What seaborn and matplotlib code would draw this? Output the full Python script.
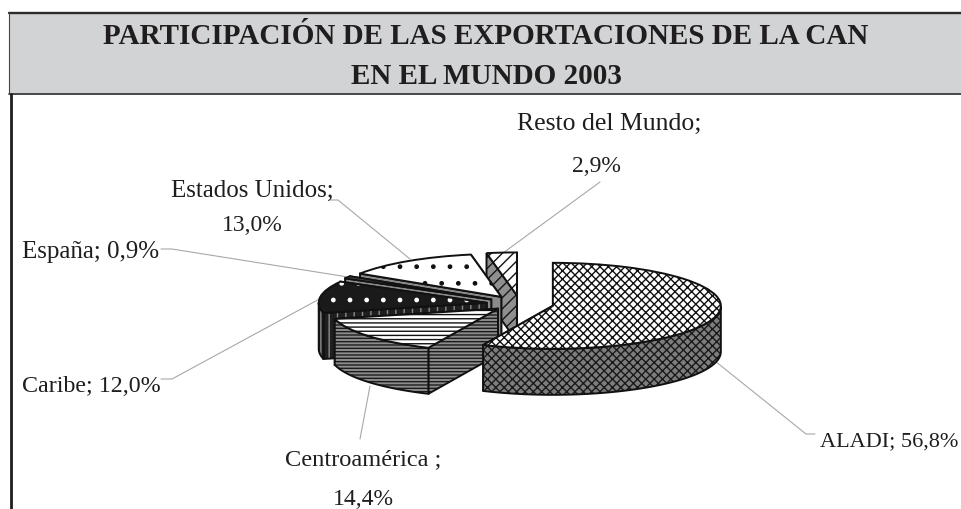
import numpy as np
import matplotlib
matplotlib.use("Agg")
import matplotlib.pyplot as plt
import seaborn as sns
from matplotlib.patches import Polygon, Rectangle, Wedge

# data, clockwise from 12 o'clock
categories = ["ALADI", "Centroamérica", "Caribe", "España", "Estados Unidos", "Resto del Mundo"]
shares = [56.8, 14.4, 12.0, 0.9, 13.0, 2.9]
explode = [0.2, 0.17, 0.2, 0.2, 0.2, 0.2]
title_lines = ["PARTICIPACIÓN DE LAS EXPORTACIONES DE LA CAN", "EN EL MUNDO 2003"]

W, H = 961, 510
# pie geometry in pixels
cx, cy, rx, ry, depth_px = 520, 305, 168, 43, 46
depth = depth_px / ry

sns.set_theme(style="white")
plt.rcParams["font.family"] = ["Liberation Serif", "DejaVu Serif"]
plt.rcParams["hatch.linewidth"] = 1.0
ink = "#1f1d1e"

fig = plt.figure(figsize=(W / 100, H / 100), dpi=100, facecolor="white")

# background layer in pixel coords: frame, title, labels, leader lines
bg = fig.add_axes([0, 0, 1, 1], zorder=0)
bg.set_xlim(0, W)
bg.set_ylim(H, 0)
bg.axis("off")

bg.add_patch(Rectangle((9, 14), W, 81, fc="#d1d3d4", ec="none"))
bg.plot([9, W], [14, 14], color="#2b2b2b", lw=1.7)
bg.plot([9, W], [95, 95], color="#2b2b2b", lw=1.2)
bg.plot([9, 9], [14, 95], color="#444444", lw=0.8)
bg.plot([10.5, 10.5], [95, H], color=ink, lw=2)
bg.text(486, 36, title_lines[0], ha="center", va="center", fontsize=21, fontweight="bold", color=ink)
bg.text(486, 77, title_lines[1], ha="center", va="center", fontsize=21, fontweight="bold", color=ink)

labels = [
    (609, 124, "Resto del Mundo;", 18.5), (596, 167, "2,9%", 17),
    (252, 191, "Estados Unidos;", 18), (252, 226, "13,0%", 17),
    (91, 252, "España; 0,9%", 18),
    (91, 387, "Caribe; 12,0%", 17.3),
    (363, 460, "Centroamérica ;", 17.6), (363, 500, "14,4%", 17),
    (889, 442, "ALADI; 56,8%", 16),
]
for x, y, s, size in labels:
    bg.text(x, y, s, ha="center", va="center", fontsize=size, color=ink)

leaders = [
    [503, 254, 600, 183],
    [410, 260, 338, 201, 330, 201],
    [161, 250, 172, 250, 348, 278],
    [161, 380, 172, 380, 325, 297],
    [370, 387, 360, 440],
    [715, 362, 806, 435, 815, 435],
]
for pts in leaders:
    bg.plot(pts[0::2], pts[1::2], color="#a8a8a8", lw=0.8)

# pie layer, 1 data unit = rx px across and ry px down, so the circle comes out flat
ax = fig.add_axes([0, 0, 1, 1], zorder=1)
wedges, _ = ax.pie(shares, explode=explode, startangle=90, counterclock=False, radius=1)
ax.set_aspect("auto")
ax.set_xlim(-cx / rx, (W - cx) / rx)
ax.set_ylim((cy - H) / ry, cy / ry)
ax.patch.set_alpha(0)
ax.axis("off")

# top colour, top hatch colour, top hatch, side colour, side hatch colour, side hatch
styles = [
    ("white", "#111111", "xxxx", "#7d7d7d", "#1a1a1a", "xxxx"),
    ("white", "#111111", "----", "#8c8c8c", "#1c1c1c", "-----"),
    ("#1a1a1a", "white", ".", "#1f1f1f", "#8a8a8a", "||"),
    ("#555555", "#111111", "", "#8a8a8a", "#333333", ""),
    ("white", "#111111", ".", "#8a8a8a", "#222222", ""),
    ("white", "#111111", "///", "#8f8f8f", "#161616", "///"),
]
# paint from the back of the pie to the front
paint_order = [5, 4, 3, 2, 1, 0]


def add_face(verts, face, hatch_col, hatch, z):
    ax.add_patch(Polygon(verts, closed=True, fc=face, ec=hatch_col, hatch=hatch, lw=0, zorder=z))
    ax.add_patch(Polygon(verts, closed=True, fill=False, ec="#111111", lw=1.4, zorder=z + 0.01))


for rank, i in enumerate(paint_order):
    w = wedges[i]
    top, top_hc, top_h, side, side_hc, side_h = styles[i]
    z = 10 + rank
    x0, y0 = w.center
    # the two cut faces, the one whose rim point sits higher goes first
    cuts = sorted((w.theta1, w.theta2), key=lambda t: -np.sin(np.radians(t)))
    for k, t in enumerate(cuts):
        px = x0 + w.r * np.cos(np.radians(t))
        py = y0 + w.r * np.sin(np.radians(t))
        add_face([(x0, y0), (px, py), (px, py - depth), (x0, y0 - depth)], side, side_hc, side_h, z + k * 0.02)
    # outer wall, only the part on the lower half of the ellipse
    t1, t2 = max(w.theta1, -180), min(w.theta2, 0)
    if t2 > t1:
        a = np.radians(np.linspace(t1, t2, 60))
        xs = x0 + w.r * np.cos(a)
        ys = y0 + w.r * np.sin(a)
        verts = list(zip(xs, ys)) + list(zip(xs[::-1], ys[::-1] - depth))
        add_face(verts, side, side_hc, side_h, z + 0.1)
    # top surface is the pie wedge itself
    w.set(facecolor=top, edgecolor=top_hc, hatch=top_h, linewidth=0, zorder=z + 0.2)
    ax.add_patch(Wedge(w.center, w.r, w.theta1, w.theta2, fill=False, ec="#111111", lw=1.4, zorder=z + 0.3))

fig.savefig("out.png", dpi=100)
plt.close(fig)
